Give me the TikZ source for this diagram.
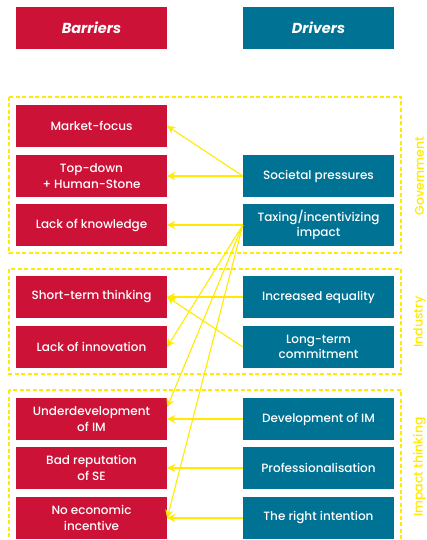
\documentclass[tikz,border=0pt]{standalone}
\usepackage{fontspec}
\setmainfont{Poppins}[UprightFont=* Medium, BoldFont=* Bold, ItalicFont=* Medium Italic, BoldItalicFont=* Bold Italic]
\usepackage{xcolor}
\usepackage{tikz}
\usetikzlibrary{calc,arrows.meta}

\definecolor{barred}{RGB}{204,18,54}
\definecolor{drvteal}{RGB}{0,114,147}
\definecolor{linkyellow}{RGB}{255,234,0}

\begin{document}
\begin{tikzpicture}[
        x=1pt, y=-1pt,
        barrier/.style = {fill=barred, text=white, minimum width=151pt, minimum height=42pt, inner sep=1pt, align=center, font=\fontsize{12}{15.5}\selectfont},
        driver/.style = {fill=drvteal, text=white, minimum width=151pt, minimum height=42pt, inner sep=1pt, align=center, font=\fontsize{12}{15.5}\selectfont},
        header/.style = {minimum width=151pt, minimum height=42pt, text=white, font=\fontsize{14.5}{16}\selectfont\bfseries\itshape},
        group/.style = {draw=linkyellow, dash pattern=on 4pt off 2.5pt, line width=1.2pt},
        grouplabel/.style = {rotate=90, text=linkyellow, font=\fontsize{12.5}{14}\selectfont},
        arrow/.style = {-{Stealth[length=8pt,width=8pt,inset=2.5pt]}, draw=linkyellow, line width=1.1pt}
    ]
    \useasboundingbox (0,0) rectangle (427,540);

    % Headers
    \node[header, fill=barred] (barriers) at (91.5,28) {Barriers};
    \node[header, fill=drvteal] (drivers) at (318.5,28) {Drivers};

    % Groups
    \draw[group] (9,97) rectangle (401,253);
    \draw[group] (9,269) rectangle (401,374);
    \draw[group] (9,390) rectangle (401,548);
    \node[grouplabel] (gov) at (419.5,176) {Government};
    \node[grouplabel] (ind) at (419.5,322) {Industry};
    \node[grouplabel] (imp) at (419.5,467) {Impact thinking};

    % Barriers
    \node[barrier] (market) at (91.5,126) {Market-focus};
    \node[barrier] (topdown) at (91.5,176) {Top-down\\+ Human-Stone};
    \node[barrier] (knowledge) at (91.5,225) {Lack of knowledge};
    \node[barrier] (shortterm) at (91.5,297) {Short-term thinking};
    \node[barrier] (innovation) at (91.5,347) {Lack of innovation};
    \node[barrier] (underdev) at (91.5,419) {Underdevelopment\\of IM};
    \node[barrier] (reputation) at (91.5,468) {Bad reputation\\of SE};
    \node[barrier] (noincentive) at (91.5,518) {No economic\\incentive};

    % Drivers
    \node[driver] (societal) at (318.5,176) {Societal pressures};
    \node[driver] (taxing) at (318.5,225) {Taxing/incentivizing\\impact};
    \node[driver] (equality) at (318.5,297) {Increased equality};
    \node[driver] (longterm) at (318.5,347) {Long-term\\commitment};
    \node[driver] (devim) at (318.5,419) {Development of IM};
    \node[driver] (prof) at (318.5,468) {Professionalisation};
    \node[driver] (intention) at (318.5,518) {The right intention};

    % Links
    \draw[arrow] (societal.west) -- (market.east);
    \draw[arrow] (societal.west) -- (topdown.east);
    \draw[arrow] (taxing.west) -- (knowledge.east);
    \draw[arrow] (taxing.west) -- (innovation.east);
    \draw[arrow] (taxing.west) -- ([yshift=12pt]underdev.east);
    \draw[arrow] (taxing.west) -- (noincentive.east);
    \draw[arrow] (equality.west) -- (shortterm.east);
    \draw[arrow] (longterm.west) -- (shortterm.east);
    \draw[arrow] (devim.west) -- (underdev.east);
    \draw[arrow] (prof.west) -- (reputation.east);
    \draw[arrow] (intention.west) -- (noincentive.east);

\end{tikzpicture}
\end{document}
